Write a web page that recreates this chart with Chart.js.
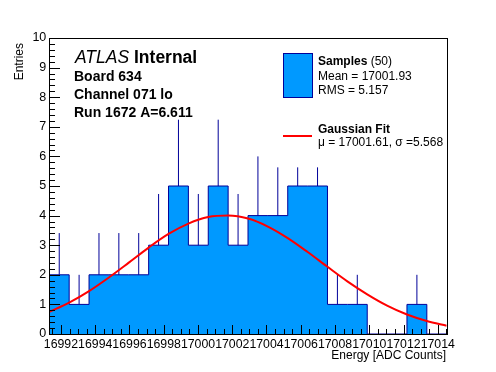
<!DOCTYPE html>
<html>
<head>
<meta charset="utf-8">
<script src="https://cdn.jsdelivr.net/npm/chart.js@4.4.1/dist/chart.umd.min.js"></script>
<style>
  html, body { margin: 0; padding: 0; background: #fff; }
  canvas { display: block; }
</style>
</head>
<body>
<canvas id="chart" width="496" height="372"></canvas>
<script>
// histogram bins
const binEdges = [16991.32, 16992.48, 16993.64, 16994.80, 16995.96, 16997.12, 16998.28,
  16999.44, 17000.60, 17001.76, 17002.92, 17004.08, 17005.24, 17006.40, 17007.56,
  17008.72, 17009.88, 17011.04, 17012.20, 17013.36, 17014.52];
const binCenters = [16991.90, 16993.06, 16994.22, 16995.38, 16996.54, 16997.70, 16998.86,
  17000.02, 17001.18, 17002.34, 17003.50, 17004.66, 17005.82, 17006.98, 17008.14,
  17009.30, 17010.46, 17011.62, 17012.78, 17013.94];
const counts = [2, 1, 2, 2, 2, 3, 5, 3, 5, 3, 4, 4, 5, 5, 1, 1, 0, 0, 1, 0];
// top end of each error bar
const errTops = [3.41, 2, 3.41, 3.41, 3.41, 4.73, 7.24, 4.73, 7.24, 4.73, 6, 5.63, 5.63, 5.63,
  2, 2, null, null, 2, null];
// gaussian fit curve, sampled at the bin edges
const fitValues = [0.75, 1.06, 1.45, 1.91, 2.41, 2.92, 3.38, 3.73, 3.95, 4.0, 3.9, 3.63,
  3.24, 2.77, 2.27, 1.78, 1.34, 0.96, 0.66, 0.44, 0.28];

const xTicks = [16992, 16994, 16996, 16998, 17000, 17002, 17004, 17006, 17008, 17010, 17012, 17014];
const yTicks = [0, 1, 2, 3, 4, 5, 6, 7, 8, 9, 10];

const FONT = "'Liberation Sans', Arial, Helvetica, sans-serif";
const FILL = "#0099ff";
const EDGE = "#000099";

const histPoints = [{ x: binEdges[0], y: 0 }];
counts.forEach((c, i) => histPoints.push({ x: binEdges[i], y: c }));
histPoints.push({ x: binEdges[binEdges.length - 1], y: 0 });

const errPoints = [];
counts.forEach((c, i) => {
  if (errTops[i] == null) return;
  errPoints.push({ x: binCenters[i], y: c }, { x: binCenters[i], y: errTops[i] }, { x: binCenters[i], y: null });
});

const fitPoints = binEdges.map((x, i) => ({ x: x, y: fitValues[i] }));

// ROOT style frame with inward ticks, plus the text boxes
const rootStyle = {
  id: "rootStyle",
  afterDraw(chart) {
    const { ctx, chartArea: a, scales } = chart;
    const xs = scales.x, ys = scales.y;
    const left = Math.round(a.left), right = Math.round(a.right);
    const top = Math.round(a.top), bottom = Math.round(a.bottom);

    ctx.save();
    ctx.fillStyle = "#000000";

    // x axis ticks, minor every 0.5
    for (let k = Math.ceil(xs.min * 2); k <= xs.max * 2; k++) {
      const px = Math.round(xs.getPixelForValue(k / 2));
      const len = (k % 4 === 0) ? 9 : 5;
      ctx.fillRect(px, bottom - len, 1, len);
    }
    // y axis ticks, minor every 0.2
    for (let k = 0; k <= 50; k++) {
      const py = Math.round(ys.getPixelForValue(k / 5));
      ctx.fillRect(left, py, k % 5 === 0 ? 11 : 6, 1);
    }
    // frame
    ctx.fillRect(left, top, right - left + 1, 1);
    ctx.fillRect(left, bottom, right - left + 1, 1);
    ctx.fillRect(left, top, 1, bottom - top + 1);
    ctx.fillRect(right, top, 1, bottom - top + 1);

    ctx.textBaseline = "alphabetic";
    ctx.textAlign = "left";

    // ATLAS label
    ctx.font = "italic 17.5px " + FONT;
    ctx.fillText("ATLAS", 75, 62.5);
    const w = ctx.measureText("ATLAS ").width;
    ctx.font = "bold 17.5px " + FONT;
    ctx.fillText("Internal", 75 + w, 62.5);
    ctx.font = "bold 14px " + FONT;
    ctx.fillText("Board 634", 74, 80.7);
    ctx.fillText("Channel 071 lo", 74, 98.7);
    ctx.fillText("Run 1672 A=6.611", 74, 117.3);

    // legend
    ctx.fillStyle = FILL;
    ctx.fillRect(283.5, 53.5, 29, 44);
    ctx.strokeStyle = EDGE;
    ctx.lineWidth = 1;
    ctx.strokeRect(283.5, 53.5, 29, 44);
    ctx.fillStyle = "#000";
    ctx.font = "bold 12px " + FONT;
    ctx.fillText("Samples", 318, 65);
    const ws = ctx.measureText("Samples").width;
    ctx.font = "12px " + FONT;
    ctx.fillText(" (50)", 318 + ws, 65);
    ctx.fillText("Mean = 17001.93", 318, 79.5);
    ctx.fillText("RMS = 5.157", 318, 93.5);

    ctx.strokeStyle = "#ff0000";
    ctx.lineWidth = 2;
    ctx.beginPath();
    ctx.moveTo(283, 136);
    ctx.lineTo(312, 136);
    ctx.stroke();
    ctx.font = "bold 12px " + FONT;
    ctx.fillText("Gaussian Fit", 318, 133);
    ctx.font = "12px " + FONT;
    ctx.fillText("\u03bc = 17001.61, \u03c3 =5.568", 318, 145.5);

    // axis titles
    ctx.font = "12px " + FONT;
    ctx.textAlign = "right";
    ctx.fillText("Energy [ADC Counts]", 446, 359);
    ctx.translate(23, 43);
    ctx.rotate(-Math.PI / 2);
    ctx.textAlign = "right";
    ctx.fillText("Entries", 0, 0);
    ctx.restore();
  },
};

new Chart(document.getElementById("chart"), {
  type: "line",
  data: {
    datasets: [
      {
        label: "Gaussian Fit",
        data: fitPoints,
        borderColor: "#ff0000",
        borderWidth: 2,
        pointRadius: 0,
        cubicInterpolationMode: "monotone",
        fill: false,
        order: 0,
      },
      {
        label: "errors",
        data: errPoints,
        borderColor: EDGE,
        borderWidth: 1,
        pointRadius: 0,
        spanGaps: false,
        fill: false,
        order: 1,
      },
      {
        label: "Samples",
        data: histPoints,
        stepped: true,
        borderColor: EDGE,
        borderWidth: 1,
        backgroundColor: FILL,
        pointRadius: 0,
        fill: "origin",
        order: 2,
      },
    ],
  },
  options: {
    responsive: false,
    animation: false,
    devicePixelRatio: 1,
    layout: { padding: { left: 0, top: 38, right: 49.3, bottom: 0 } },
    plugins: { legend: { display: false }, tooltip: { enabled: false } },
    scales: {
      x: {
        type: "linear",
        min: binEdges[0],
        max: binEdges[binEdges.length - 1],
        grid: { display: false, drawTicks: false },
        border: { display: false },
        afterBuildTicks: (scale) => { scale.ticks = xTicks.map((v) => ({ value: v })); },
        afterFit: (scale) => { scale.height = 38; },
        ticks: {
          autoSkip: false,
          maxRotation: 0,
          minRotation: 0,
          padding: 3,
          color: "#000",
          font: { family: FONT, size: 12.3 },
          callback: (v) => String(v),
        },
      },
      y: {
        min: 0,
        max: 10,
        grid: { display: false, drawTicks: false },
        border: { display: false },
        afterBuildTicks: (scale) => { scale.ticks = yTicks.map((v) => ({ value: v })); },
        afterFit: (scale) => { scale.width = 49.3; },
        ticks: {
          padding: 3,
          color: "#000",
          font: { family: FONT, size: 12.5 },
        },
      },
    },
  },
  plugins: [rootStyle],
});
</script>
</body>
</html>
